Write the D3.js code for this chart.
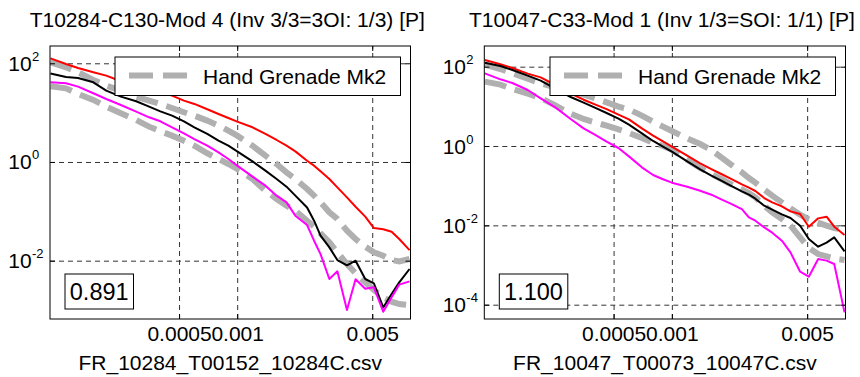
<!DOCTYPE html>
<html>
<head>
<meta charset="utf-8">
<script src="https://cdn.jsdelivr.net/npm/d3@7"></script>
<style>
  body { margin: 0; background: #fff; }
  svg text { font-family: "Liberation Sans", Arial, sans-serif; fill: #000; }
</style>
</head>
<body>
<div id="chart"></div>
<script>
// frequency grid shared by both panels
const freq = [0.000108, 0.00013, 0.00015, 0.00018, 0.00021, 0.00025, 0.0003, 0.00035, 0.0004, 0.00046,
  0.00053, 0.0006, 0.0007, 0.0008, 0.0009, 0.001, 0.0012, 0.0014, 0.0016, 0.0018,
  0.002, 0.0023, 0.0025, 0.0027, 0.003, 0.0033, 0.0037, 0.0041, 0.0046, 0.0051,
  0.0057, 0.0063, 0.0069, 0.0078];

// left panel
const leftRed = [126, 96.8, 80.4, 65.8, 56.2, 43.2, 35.2, 30.2, 25.8, 22.1,
  17.5, 15.0, 11.7, 9.40, 7.80, 6.58, 5.05, 3.70, 2.79, 2.14,
  1.64, 1.06, 0.843, 0.647, 0.452, 0.306, 0.192, 0.124, 0.0780, 0.0459,
  0.0432, 0.0387, 0.0275, 0.0164];
const leftBlack = [61.8, 52.8, 50.5, 41.2, 27.9, 21.1, 17.0, 13.2, 10.6, 8.69,
  6.67, 5.05, 3.70, 2.70, 2.14, 1.64, 1.03, 0.667, 0.452, 0.316,
  0.208, 0.120, 0.0647, 0.0321, 0.0186, 0.0103, 0.00804, 0.0100, 0.00425, 0.00348,
  0.00113, 0.00211, 0.00364, 0.00678];
const leftMagenta = [41.2, 39.4, 33.7, 24.7, 18.9, 14.3, 10.5, 8.04, 6.67, 5.05,
  3.81, 2.92, 2.14, 1.57, 1.15, 0.843, 0.505, 0.331, 0.208, 0.152,
  0.0817, 0.0528, 0.0254, 0.0136, 0.00425, 0.00608, 0.00100, 0.00419, 0.00270, 0.00288,
  0.000925, 0.00181, 0.00327, 0.00381];
const leftGrayHi = [105, 83.0, 65.8, 45.9, 35.2, 27.9, 21.1, 17.5, 15.0, 12.4,
  10.2, 8.69, 6.89, 5.45, 4.32, 3.42, 2.14, 1.34, 0.910, 0.618,
  0.452, 0.284, 0.208, 0.152, 0.0955, 0.0700, 0.0406, 0.0275, 0.0192, 0.0148,
  0.0126, 0.0103, 0.00968, 0.0108];
const leftGrayLo = [34.2, 31.1, 23.9, 18.1, 13.2, 9.68, 7.10, 5.20, 4.19, 3.42,
  2.70, 2.14, 1.50, 1.15, 0.910, 0.721, 0.452, 0.262, 0.178, 0.130,
  0.103, 0.0647, 0.0489, 0.0358, 0.0236, 0.0148, 0.00855, 0.00553, 0.00364, 0.00254,
  0.00181, 0.00148, 0.00132, 0.00126];

// right panel
const rightRed = [147, 115, 92.5, 66.7, 53.8, 34.5, 21.0, 14.7, 11.2, 8.49,
  6.17, 4.70, 2.79, 1.82, 1.31, 0.962, 0.570, 0.366, 0.263, 0.197,
  0.153, 0.108, 0.0891, 0.0735, 0.0489, 0.0380, 0.0301, 0.0225, 0.0193, 0.00925,
  0.0150, 0.0165, 0.00925, 0.00570];
const rightBlack = [126, 104, 82.4, 59.3, 44.4, 27.9, 17.2, 12.4, 9.25, 6.79,
  4.89, 3.45, 2.08, 1.34, 0.962, 0.719, 0.410, 0.258, 0.179, 0.134,
  0.102, 0.0720, 0.0593, 0.0470, 0.0313, 0.0248, 0.0189, 0.0153, 0.00982, 0.00452,
  0.00290, 0.00366, 0.00498, 0.00221];
const rightMagenta = [67.9, 48.0, 38.7, 25.8, 15.9, 9.44, 4.80, 2.79, 1.93, 1.29,
  0.891, 0.548, 0.290, 0.186, 0.145, 0.119, 0.0944, 0.0748, 0.0593, 0.0452,
  0.0359, 0.0258, 0.0159, 0.0131, 0.00891, 0.00653, 0.00410, 0.00208, 0.000679, 0.000508,
  0.00142, 0.00129, 0.00106, 0.0000641];
const rightGrayHi = [112, 87.3, 67.9, 49.8, 38.0, 30.1, 23.9, 19.7, 16.2, 12.6,
  9.82, 8.39, 5.82, 4.10, 3.07, 2.39, 1.56, 1.12, 0.792, 0.518,
  0.352, 0.217, 0.156, 0.119, 0.0793, 0.0560, 0.0380, 0.0269, 0.0186, 0.0142,
  0.0117, 0.00982, 0.00857, 0.00762];
const rightGrayLo = [41.9, 35.2, 27.4, 20.8, 16.2, 10.6, 6.53, 4.80, 3.95, 3.26,
  2.63, 2.13, 1.59, 1.21, 1.00, 0.809, 0.452, 0.279, 0.197, 0.147,
  0.112, 0.0809, 0.0653, 0.0508, 0.0313, 0.0213, 0.0145, 0.00982, 0.00498, 0.00269,
  0.00189, 0.00165, 0.00147, 0.00134];

const titles = ["T10284-C130-Mod 4 (Inv 3/3=3OI: 1/3) [P]", "T10047-C33-Mod 1 (Inv 1/3=SOI: 1/1) [P]"];
const xLabels = ["FR_10284_T00152_10284C.csv", "FR_10047_T00073_10047C.csv"];
const scores = ["0.891", "1.100"];
const legendLabel = "Hand Grenade Mk2";
const xTicks = [0.0005, 0.001, 0.005];
const xTickLabels = ["0.0005", "0.001", "0.005"];
const leftYTicks = [0.01, 1, 100];
const rightYTicks = [0.0001, 0.01, 1, 100];
const xDomain = [0.0001074, 0.00789];
const leftYDomain = [0.000658, 224];
const rightYDomain = [0.0000436, 332];

const svg = d3.select("#chart").append("svg")
  .attr("width", 860).attr("height", 377)
  .style("display", "block");
svg.append("rect").attr("width", 860).attr("height", 377).attr("fill", "#fff");

const panels = [
  { left: 50, width: 360.5, yDomain: leftYDomain, yTicks: leftYTicks,
    series: { grayHi: leftGrayHi, grayLo: leftGrayLo, red: leftRed, black: leftBlack, magenta: leftMagenta } },
  { left: 484.3, width: 361.2, yDomain: rightYDomain, yTicks: rightYTicks,
    series: { grayHi: rightGrayHi, grayLo: rightGrayLo, red: rightRed, black: rightBlack, magenta: rightMagenta } }
];
const plotTop = 46, plotH = 273;

panels.forEach((p, pi) => {
  const w = p.width, h = plotH;
  const g = svg.append("g").attr("transform", `translate(${p.left},${plotTop})`);
  const x = d3.scaleLog().domain(xDomain).range([0, w]);
  const y = d3.scaleLog().domain(p.yDomain).range([h, 0]);

  g.append("clipPath").attr("id", "clip" + pi)
    .append("rect").attr("width", w).attr("height", h);

  // grid
  const gridX = g.append("g").attr("class", "grid")
    .attr("transform", `translate(0,${h})`)
    .call(d3.axisBottom(x).tickValues(xTicks).tickSize(-h).tickFormat(""));
  const gridY = g.append("g").attr("class", "grid")
    .call(d3.axisLeft(y).tickValues(p.yTicks).tickSize(-w).tickFormat(""));
  [gridX, gridY].forEach(gr => {
    gr.select(".domain").remove();
    gr.selectAll("line").attr("stroke", "#333").attr("stroke-width", 1).attr("stroke-dasharray", "5,4");
  });

  const line = d3.line().x((d, i) => x(freq[i])).y(d => y(d));
  const plot = g.append("g").attr("clip-path", `url(#clip${pi})`);

  ["grayHi", "grayLo"].forEach(k => {
    plot.append("path").datum(p.series[k])
      .attr("d", line).attr("fill", "none")
      .attr("stroke", "#b0b0b0").attr("stroke-width", 6)
      .attr("stroke-dasharray", "22,9");
  });
  [["red", "#ff0000"], ["black", "#000000"], ["magenta", "#ff00ff"]].forEach(([k, c]) => {
    plot.append("path").datum(p.series[k])
      .attr("d", line).attr("fill", "none")
      .attr("stroke", c).attr("stroke-width", 2)
      .attr("stroke-linejoin", "round");
  });

  // axes with inward ticks on all four sides
  const axB = g.append("g").attr("transform", `translate(0,${h})`)
    .call(d3.axisBottom(x).tickValues(xTicks).tickSize(-5).tickPadding(7.5)
      .tickFormat((d, i) => xTickLabels[i]));
  axB.selectAll("text").attr("font-size", 21).attr("font-family", null);
  const axT = g.append("g").call(d3.axisTop(x).tickValues(xTicks).tickSize(-5).tickFormat(""));
  const axL = g.append("g").call(d3.axisLeft(y).tickValues(p.yTicks).tickSize(-5).tickFormat(""));
  const axR = g.append("g").attr("transform", `translate(${w},0)`)
    .call(d3.axisRight(y).tickValues(p.yTicks).tickSize(-5).tickFormat(""));
  [axB, axT, axL, axR].forEach(a => {
    a.attr("font-family", null);
    a.select(".domain").remove();
    a.selectAll("line").attr("stroke", "#000");
  });

  // y tick labels as 10^n
  p.yTicks.forEach(t => {
    const ty = y(t);
    const e = Math.round(Math.log10(t));
    g.append("text").attr("x", -18.3).attr("y", ty + 7.5)
      .attr("text-anchor", "end").attr("font-size", 21).text("10");
    g.append("text").attr("x", -18).attr("y", ty - 2.5)
      .attr("text-anchor", "start").attr("font-size", 13).text(String(e));
  });

  g.append("rect").attr("width", w).attr("height", h)
    .attr("fill", "none").attr("stroke", "#000").attr("stroke-width", 1);

  // title and x label
  g.append("text").attr("x", w / 2 - 3).attr("y", 26.5 - plotTop)
    .attr("text-anchor", "middle").attr("font-size", 21).text(titles[pi]);
  g.append("text").attr("x", w / 2).attr("y", 370 - plotTop)
    .attr("text-anchor", "middle").attr("font-size", 21).text(xLabels[pi]);

  // legend
  const lg = g.append("g").attr("transform", `translate(${w - 10 - 285.5},${11})`);
  lg.append("rect").attr("width", 285.5).attr("height", 38.5)
    .attr("fill", "#fff").attr("stroke", "#000").attr("stroke-width", 1);
  lg.append("line").attr("x1", 14).attr("x2", 72).attr("y1", 18.5).attr("y2", 18.5)
    .attr("stroke", "#b0b0b0").attr("stroke-width", 6).attr("stroke-dasharray", "24,10");
  lg.append("text").attr("x", 88).attr("y", 26.5).attr("font-size", 21).text(legendLabel);

  // score box
  const sb = g.append("g").attr("transform", `translate(15,${h - 45})`);
  sb.append("rect").attr("width", 68.5).attr("height", 35)
    .attr("fill", "#fff").attr("stroke", "#000").attr("stroke-width", 1);
  sb.append("text").attr("x", 34.2).attr("y", 26).attr("text-anchor", "middle")
    .attr("font-size", 23.5).text(scores[pi]);
});
</script>
</body>
</html>
